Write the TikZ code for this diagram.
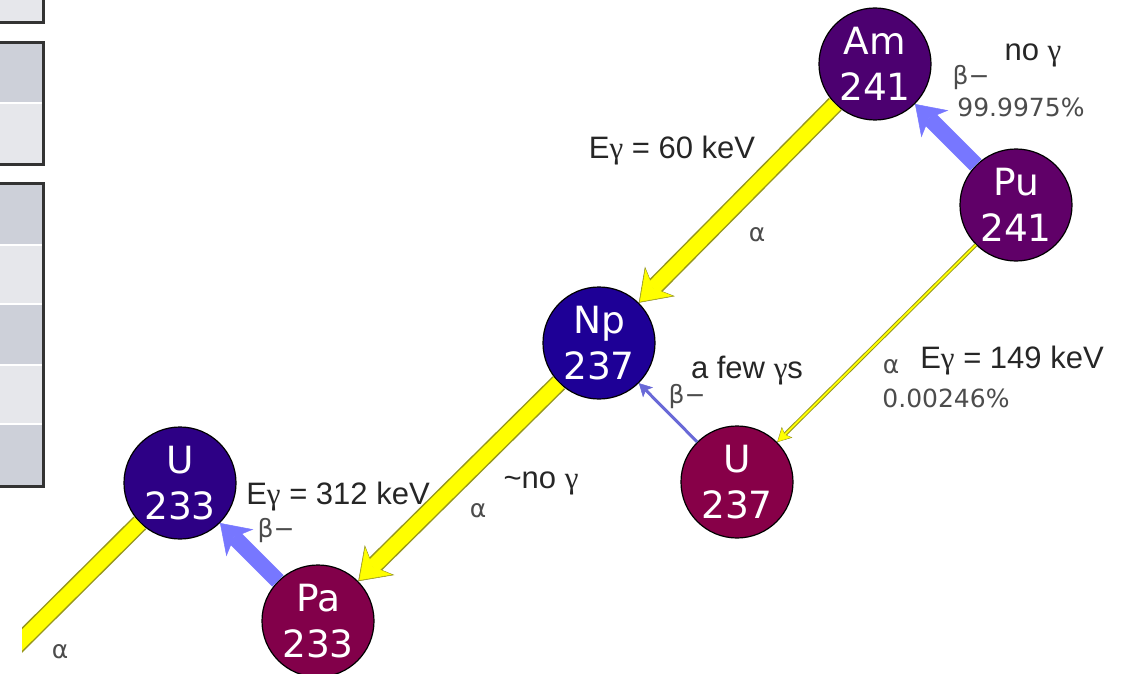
\documentclass[tikz,border=0pt]{standalone}
\usepackage{fontspec}
\setmainfont{Liberation Sans}
\newfontfamily\nucfont{DejaVu Sans}
\newfontfamily\greekfont{Liberation Serif}
\usepackage{xcolor}
\usetikzlibrary{arrows.meta}

\definecolor{amfill}{RGB}{76,0,112}
\definecolor{pufill}{RGB}{96,0,104}
\definecolor{npfill}{RGB}{30,0,150}
\definecolor{uaafill}{RGB}{45,0,133}
\definecolor{ubbfill}{RGB}{135,0,72}
\definecolor{pafill}{RGB}{130,0,74}
\definecolor{alphayellow}{RGB}{255,255,0}
\definecolor{alphaedge}{RGB}{150,150,30}
\definecolor{betablue}{RGB}{119,119,255}
\definecolor{betathinblue}{RGB}{105,105,215}
\definecolor{paneldark}{RGB}{205,208,217}
\definecolor{panellight}{RGB}{230,231,235}
\definecolor{panelframe}{RGB}{51,51,51}

\newcommand{\gam}{{\greekfont γ}}

\begin{document}
\begin{tikzpicture}[
    x=1pt, y=-1pt,
    nuclide/.style={circle, draw=black, line width=1.2pt, minimum size=112pt,
                    inner sep=0pt, text=white, align=center,
                    font=\nucfont\fontsize{37.5}{46}\selectfont},
    energy/.style={anchor=base, inner sep=0pt, text=black!85,
                   font=\fontsize{31}{33}\selectfont},
    note/.style={anchor=base, inner sep=0pt, text=black!70,
                 font=\nucfont\fontsize{25}{27}\selectfont},
    alphaout/.style={draw=alphaedge, line width=18pt,
                     -{Stealth[length=30pt, width=42pt, inset=9pt, line width=0.5pt]}},
    alphain/.style={draw=alphayellow, line width=15pt, shorten >=1.5pt,
                    -{Stealth[length=27pt, width=38pt, inset=8pt, line width=0.5pt]}},
    betathick/.style={draw=betablue, line width=16pt,
                      -{Stealth[length=28pt, width=38pt, inset=8pt, line width=0.5pt]}},
    alphathinout/.style={draw=alphaedge, line width=3.8pt,
                         -{Stealth[length=14pt, width=15pt, inset=3pt, line width=0.5pt]}},
    alphathinin/.style={draw=alphayellow, line width=1.8pt, shorten >=1pt,
                        -{Stealth[length=12pt, width=12.5pt, inset=2.5pt, line width=0.5pt]}},
    betathin/.style={draw=betathinblue, line width=3pt,
                     -{Stealth[length=13pt, width=14pt, inset=3pt, line width=0.5pt]}}
]
    \useasboundingbox (0,0) rectangle (1130,674);

    % ── left panel ──
    \fill[panellight] (-5,-5) rectangle (43,22);
    \foreach \top/\bot/\shade in {43/103/paneldark, 103/165/panellight,
                                  183/245/paneldark, 245/304/panellight,
                                  304/365/paneldark, 365/424/panellight,
                                  424/486/paneldark}
        \fill[\shade] (-5,\top) rectangle (43,\bot);
    \foreach \y in {103,245,304,365,424}
        \draw[white, line width=2pt] (-5,\y) -- (42,\y);
    \draw[panelframe, line width=3pt] (-5,-5) rectangle (43.5,22.5);
    \draw[panelframe, line width=3pt] (-5,43) rectangle (43.5,165);
    \draw[panelframe, line width=3pt] (-5,183) rectangle (43.5,486);

    % ── nuclides ──
    \node[nuclide, fill=amfill]  (Am241) at (875,64)  {Am\\241};
    \node[nuclide, fill=pufill]  (Pu241) at (1016,205) {Pu\\241};
    \node[nuclide, fill=npfill]  (Np237) at (599,343) {Np\\237};
    \node[nuclide, fill=ubbfill] (U237)  at (737,482) {U\\237};
    \node[nuclide, fill=uaafill] (U233)  at (180,483) {U\\233};
    \node[nuclide, fill=pafill]  (Pa233) at (318,621) {Pa\\233};
    \coordinate (Th229) at (2,660);

    % ── decays ──
    \draw[alphaout] (Am241) -- (Np237);
    \draw[alphain]  (Am241) -- (Np237);
    \draw[alphaout] (Np237) -- (Pa233);
    \draw[alphain]  (Np237) -- (Pa233);
    \begin{scope}
        \clip (22,480) rectangle (300,674);
        \draw[alphaout, -] (U233) -- (Th229);
        \draw[alphain, -]  (U233) -- (Th229);
    \end{scope}
    \draw[betathick] (Pu241) -- (Am241);
    \draw[betathick] (Pa233) -- (U233);
    \draw[alphathinout] (Pu241) -- (U237);
    \draw[alphathinin]  (Pu241) -- (U237);
    \draw[betathin] (U237) -- (Np237);

    % ── labels ──
    \node[energy] (gAm) at (672,158) {E\gam{} = 60 keV};
    \node[note]   (aAm) at (757,241) {α};
    \node[energy] (gPu) at (1033,61) {no \gam};
    \node[note]   (bPu) at (971,85)  {β−};
    \node[note]   (pPu) at (1021,117) {99.9975\%};
    \node[energy] (gUb) at (747,378) {a few \gam s};
    \node[note]   (bUb) at (687,403) {β−};
    \node[note]   (aPu) at (891,373) {α};
    \node[energy] (eUb) at (1012,368) {E\gam{} = 149 keV};
    \node[note]   (pUb) at (946,407) {0.00246\%};
    \node[energy] (gNp) at (541,488) {\textasciitilde no \gam};
    \node[note]   (aNp) at (478,517) {α};
    \node[energy] (gPa) at (338,504) {E\gam{} = 312 keV};
    \node[note]   (bPa) at (276,537) {β−};
    \node[note]   (aUa) at (60,658)  {α};
\end{tikzpicture}
\end{document}
